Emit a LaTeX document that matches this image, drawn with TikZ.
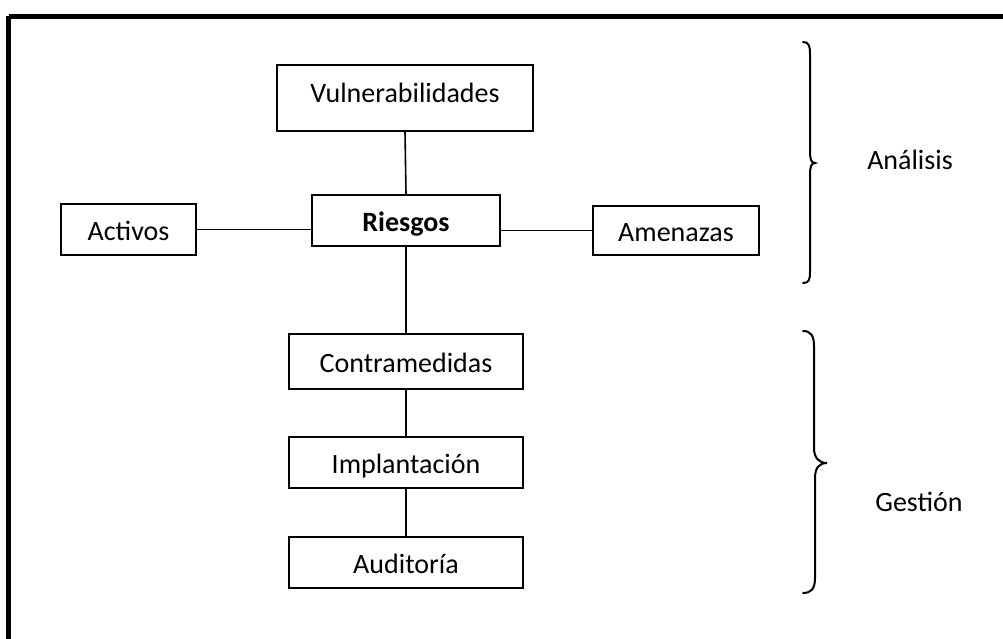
\documentclass[tikz,border=0pt]{standalone}
\usepackage{fontspec}
\setmainfont{Carlito}
\begin{document}
\begin{tikzpicture}[x=1pt,y=-1pt,
  box/.style={draw=black,line width=2pt,inner sep=0pt,text height=22pt,text depth=0pt,font=\fontsize{28}{34}\selectfont},
  conn/.style={line width=1.6pt},
  brc/.style={line width=2pt,line cap=round},
  lbl/.style={font=\fontsize{28}{34}\selectfont,inner sep=0pt}]
\useasboundingbox (0,0) rectangle (1003,639);
\draw[line width=5.5pt] (8.5,16.5) -- (1020,16.5);
\draw[line width=5.5pt] (8.5,16.5) -- (8.5,660);
% nodes
\node[box,minimum width=256pt,minimum height=66pt,text height=10pt] (vul) at (405,98) {Vulnerabilidades};
\node[box,minimum width=188pt,minimum height=51pt,font=\fontsize{28}{34}\selectfont\bfseries] (rie) at (406,220.5) {Riesgos};
\node[box,minimum width=135pt,minimum height=51pt] (act) at (128.5,229.5) {Activos};
\node[box,minimum width=166pt,minimum height=49pt] (ame) at (676,230.5) {Amenazas};
\node[box,minimum width=234pt,minimum height=55pt] (con) at (406,361.5) {Contramedidas};
\node[box,minimum width=234pt,minimum height=51pt] (imp) at (406,462.5) {Implantación};
\node[box,minimum width=234pt,minimum height=51pt] (aud) at (406,562.5) {Auditoría};
% connectors
\draw[conn] (vul.south) -- (rie.north);
\draw[conn] (act.east) -- (act.east -| rie.west);
\draw[conn] (ame.west) -- (ame.west -| rie.east);
\draw[conn] (rie.south) -- (con.north);
\draw[conn] (con.south) -- (imp.north);
\draw[conn] (imp.south) -- (aud.north);
% braces
\draw[brc] (803,42) .. controls (809,42) and (810,46) .. (810,54) -- (810,151)
  .. controls (810,159) and (811,163) .. (815,163)
  .. controls (811,163) and (810,167) .. (810,175) -- (810,271)
  .. controls (810,280) and (809,283) .. (803,283);
\draw[brc] (803,331) .. controls (811,331) and (814,336) .. (814,346) -- (814,448)
  .. controls (814,458) and (819,463) .. (827,463)
  .. controls (819,463) and (815,468) .. (815,478) -- (815,578)
  .. controls (815,589) and (811,593) .. (803,593);
\node[lbl] (ana) at (910,160) {Análisis};
\node[lbl] (ges) at (919,502) {Gestión};
\end{tikzpicture}
\end{document}
